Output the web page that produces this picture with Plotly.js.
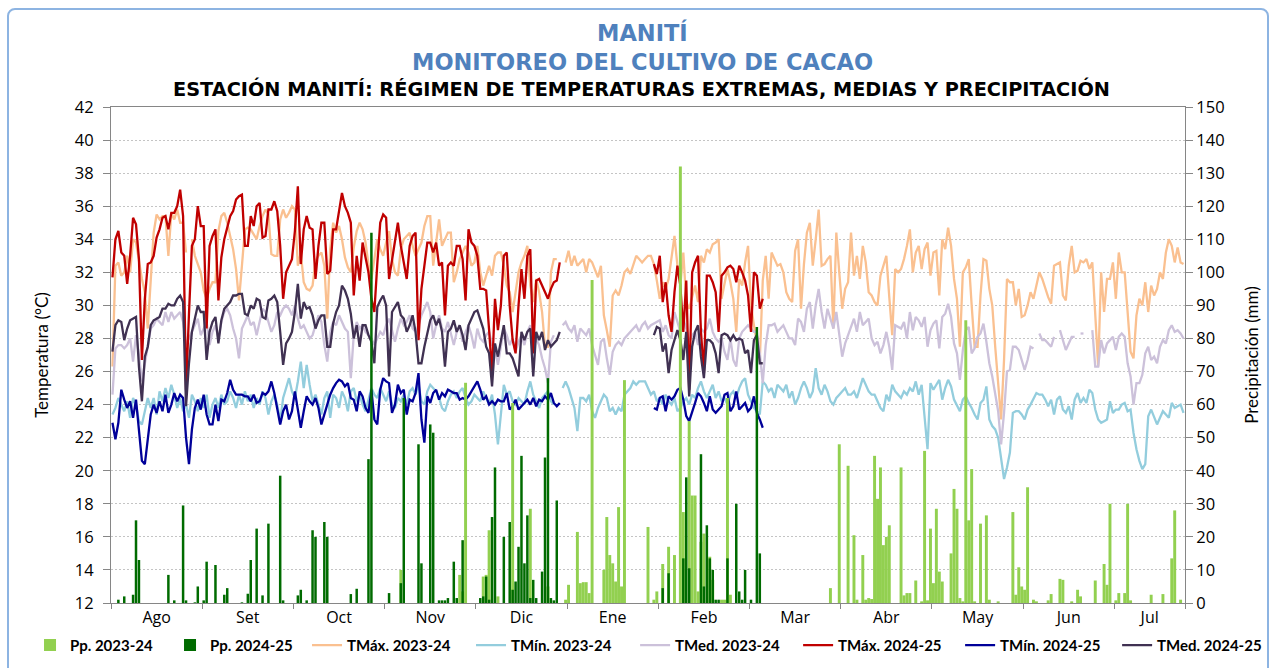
<!DOCTYPE html>
<html>
<head>
<meta charset="utf-8">
<script src="https://cdn.plot.ly/plotly-3.0.1.min.js"></script>
<style>
  html, body { margin: 0; padding: 0; background: #fff; }
  #chart { position: absolute; left: 0; top: 0; width: 1272px; height: 668px; }
  #frame { position: absolute; left: 7px; top: 8px; width: 1262px; height: 700px;
           border: 2px solid #8DB4E2; border-radius: 8px; box-sizing: border-box; pointer-events: none; }
</style>
</head>
<body>
<div id="chart"></div>
<div id="frame"></div>
<script>
// ======================
// DATA (one value per day, day 0 = 1 Ago)
// ======================

const monthLabels = ['Ago', 'Set', 'Oct', 'Nov', 'Dic', 'Ene', 'Feb', 'Mar', 'Abr', 'May', 'Jun', 'Jul'];
const nDays = 365;
const tickStep = 31; // the source chart puts a tick mark every 31 categories

// TMáx 2023-24
const tmax2324 = [
  26.3, 32.4, 32.6, 31.8, 32.0, 33.0, 32.0, 34.0, 33.8, 32.6,
  31.6, 30.8, 28.6, 31.5, 34.4, 35.5, 35.2, 35.4, 35.4, 33.0,
  35.6, 35.2, 35.8, 35.0, 35.0, 33.2, null, 34.0, 33.0, 32.5,
  32.0, 30.9, 30.4, 31.0, 31.4, 31.4, 34.5, 35.4, 35.6, 35.0,
  34.2, 33.4, 32.2, 30.3, 32.4, 34.6, 34.7, 34.6, 34.3, 34.0,
  34.8, 35.4, 35.8, 35.5, 33.1, 33.0, 33.0, 35.2, 35.8, 35.3,
  35.6, 36.0, 35.8, 32.4, 33.2, 31.4, 31.0, 30.9, 31.2, 32.7,
  33.0, 33.2, 32.4, 29.2, 33.4, 35.0, 34.4, 34.8, 34.0, 32.9,
  32.3, 32.0, 33.5, 34.5, 35.0, 34.6, 33.8, 32.5, 31.6, 32.8,
  34.0, 33.4, 33.0, 33.8, 34.5, 32.8, 32.0, 31.8, 33.4, 34.0,
  34.2, 34.4, 33.6, 33.0, 33.4, 33.8, 34.8, 35.4, 35.4, 32.4,
  33.8, 35.2, 33.6, 34.0, 34.4, 34.4, 31.4, 32.0, 32.8, 33.2,
  33.6, 33.2, 32.4, 32.6, 33.6, 32.0, 31.2, 31.8, 32.4, 31.8,
  33.0, 33.2, 33.2, 32.4, 31.2, 30.8, 29.6, 30.8, 32.0, 32.6,
  33.0, 33.6, 31.2, 30.2, 31.6, 30.8, 29.6, 27.5, 27.5, 32.0,
  32.8, 32.8, null, null, 32.6, 33.3, 32.4, 33.0, 32.4, 32.6,
  32.8, 32.0, 32.8, 32.6, 32.2, 31.7, 32.4, 29.4, 28.5, 27.5,
  30.6, 30.9, 30.6, 31.2, 32.0, 32.2, 31.9, 32.4, 33.0, 32.8,
  32.6, 32.8, 33.0, 33.0, 32.5, 31.5, 30.4, 31.4, 31.0, 31.6,
  33.0, 34.2, 32.4, 31.2, 33.2, 30.2, 29.8, 30.6, 31.2, 30.2,
  33.0, 32.6, 33.4, 33.2, 33.7, 33.8, 34.0, 30.4, 31.2, 32.2,
  31.4, 30.4, 28.4, 31.6, 31.2, 32.6, 33.6, 30.0, 28.8, 27.8,
  26.7, 31.5, 33.0, 30.4, 33.2, 32.8, 32.4, 32.5, 32.0, 30.8,
  30.4, 30.2, 33.3, 34.0, 29.8, 32.5, 34.4, 35.0, 32.4, 34.0,
  35.8, 32.4, 32.5, 32.8, 33.0, 28.6, 34.4, 32.0, 29.8, 31.0,
  31.4, 34.4, 31.8, 33.0, 31.6, 33.6, 32.6, 30.8, 30.6, 30.2,
  30.0, 31.8, 32.4, 33.0, 30.5, 28.2, 32.2, 32.0, 32.2, 32.8,
  33.6, 34.6, 32.0, 33.2, 33.6, 32.2, 33.4, 33.8, 31.8, 33.2,
  33.3, 30.6, 34.0, 33.4, 34.7, 33.6, 31.6, 30.4, 27.5, 32.0,
  32.3, 32.8, 30.0, 27.5, 27.5, 30.6, 32.8, 32.7, 31.0, 30.0,
  27.5, 25.3, 23.1, 26.7, 31.6, 31.4, 31.4, 30.0, 31.0, 29.3,
  29.4, 30.0, 30.8, 30.4, 31.2, 32.0, 31.6, 31.0, 30.5, 30.1,
  32.4, 32.5, 32.6, 30.6, 30.3, 32.4, 33.6, 32.0, 32.1, 32.7,
  32.6, 32.8, 32.2, 32.6, 29.0, 26.3, 32.0, 29.6, 31.6, 31.6,
  32.6, 30.4, 33.2, 32.0, 32.0, 29.4, 27.2, 26.8, 29.4, 30.4,
  30.0, 31.4, 29.6, 31.2, 30.6, 31.0, 32.0, 31.6, 33.2, 34.0,
  33.6, 32.6, 33.5, 32.6, 32.5
];

// TMín 2023-24
const tmin2324 = [
  23.4, 23.8, 24.4, 24.0, 23.6, 24.2, 23.2, 24.4, 24.0, 23.0,
  22.8, 23.6, 24.4, 23.8, 24.4, 23.4, 24.8, 24.2, 25.0, 24.4,
  25.2, 24.6, 23.8, 24.4, 23.6, 24.0, 23.2, 24.6, 24.2, 23.6,
  24.4, 23.8, 24.6, 23.2, 24.0, 24.4, 23.8, 24.6, 24.0, 24.2,
  24.8, 24.4, 23.8, 24.6, 24.0, 24.8, 24.2, 24.6, 23.8, 24.4,
  24.0, 24.8, 24.4, 23.4, 24.2, 24.6, 24.0, 23.0, 24.4, 25.0,
  25.6, 24.8, 24.4, 25.4, 26.6, 25.0, 26.4, 25.2, 24.2, 24.6,
  24.0, 23.4, 24.4, 24.8, 23.2, 24.6, 24.4, 23.8, 24.8, 24.4,
  23.6, 24.8, 25.0, 24.2, 24.6, 24.0, 23.6, 24.4, 25.0, 24.6,
  24.4, 25.0, 24.6, 24.2, 24.8, 24.0, 23.8, 24.4, 24.2, 24.6,
  24.0, 24.8, 25.0, 24.6, 25.2, 24.2, 24.0, 24.8, 25.2, 25.0,
  24.8, 24.4, 23.8, 23.6, 24.2, 24.6, 24.8, 24.4, 24.8, 25.0,
  24.4, 24.0, 24.2, 24.6, 24.4, 24.2, 24.8, 24.4, 24.0, 24.6,
  23.4, 21.6, 23.6, 25.2, 24.6, 24.8, 24.2, 24.0, 24.4, 24.2,
  24.0, 24.8, 25.4, 24.6, 24.2, 23.8, 24.4, 24.6, 24.8, 24.2,
  24.0, null, null, 25.0, 25.4, 25.0, 24.4, 23.8, 22.4, 24.4,
  24.4, 24.2, 24.6, 23.6, 23.2, 23.8, 24.2, 24.6, 24.4, 23.6,
  23.8, 23.4, 23.8, 23.6, 24.6, 24.8, 25.0, 25.4, 25.2, 25.4,
  25.4, 25.4, 25.0, 24.6, 24.8, 24.2, 24.4, 24.0, 24.6, 24.2,
  24.0, 24.4, 23.6, 23.8, 24.2, 24.4, 24.0, 24.6, 24.4, 25.0,
  25.4, 24.8, 24.4, 24.8, 25.2, 24.4, 24.8, 24.2, 24.4, 24.0,
  24.6, 24.8, 24.4, 25.0, 25.4, 25.6, 24.6, 24.2, 23.8, 23.6,
  23.4, 25.4, 25.2, 24.8, 25.0, 24.4, 25.2, 25.0, 24.8, 25.2,
  24.4, 24.8, 24.0, 24.4, 25.0, 25.4, 25.0, 24.4, 24.8, 26.2,
  25.0, 24.6, 25.2, 24.8, 24.2, 24.0, 24.4, 24.6, 24.8, 25.0,
  24.6, 24.6, 24.8, 24.4, 25.0, 25.6, 25.2, 24.8, 24.6, 24.6,
  24.2, 23.8, 23.6, 24.6, 24.2, 25.2, 24.8, 24.6, 24.4, 24.8,
  24.6, 25.0, 24.8, 25.4, 24.6, 25.2, 23.4, 21.3, 25.3, 24.9,
  25.2, 25.5, 24.3, 25.0, 25.5, 25.1, 24.3, 23.9, 23.6, 24.3,
  24.5, 24.1, 23.8, 23.4, 23.1, 24.1, 24.3, 25.1, 23.1, 22.7,
  22.5, 22.0, 20.6, 19.5, 20.2, 21.1, 23.5, 23.6, 23.6, 23.4,
  23.1, 23.7, 24.0, 24.4, 24.7, 24.6, 24.6, 24.3, 23.9, 24.3,
  23.4, 24.3, 24.5, 23.7, 23.5, 23.9, 23.1, 24.3, 24.7, 24.1,
  24.4, 24.1, 24.9, 24.7, 23.7, 23.1, 22.9, 23.0, 23.1, 24.2,
  23.5, 23.7, 23.7, 24.0, 24.1, 23.6, 23.7, 22.3, 21.3, 20.6,
  20.1, 20.4, 23.3, 23.7, 23.2, 22.8, 23.2, 23.6, 23.4, 23.2,
  24.1, 23.8, 23.9, 24.0, 23.5
];

// TMed 2023-24
const tmed2324 = [
  24.6, 27.4, 27.6, 27.6, 27.4, 27.6, 28.0, 26.6, 28.2, 27.0,
  25.4, 26.4, 27.4, 28.6, 28.8, 29.2, 29.0, 28.8, 29.6, 29.0,
  29.6, 29.2, 29.4, 29.6, 29.0, 27.6, 28.0, 28.4, 28.8, 29.2,
  28.2, 28.6, 29.0, 27.6, 28.4, 28.8, 28.0, 29.0, 29.6, 29.8,
  29.4, 28.6, 28.0, 26.8, 28.6, 29.0, 29.4, 28.8, 29.0, 28.2,
  29.0, 29.8, 29.6, 29.0, 28.4, 28.8, 29.6, 29.4, 29.8, 30.0,
  29.8, 29.4, 30.0, 29.2, 28.6, 28.8, 28.4, 28.0, 28.2, 28.8,
  29.4, 29.0, 27.6, 26.6, 28.4, 29.0, 28.8, 29.4, 29.0, 28.6,
  28.4, 25.6, 28.2, 29.0, 28.6, 28.8, 28.4, 28.2, 28.0, 27.6,
  28.0, 28.4, 28.2, 28.8, 29.2, 28.4, 27.8, 28.6, 29.2, 28.8,
  29.0, 29.4, 28.6, 28.4, 28.8, 29.4, 29.8, 30.2, 29.6, 28.0,
  28.8, 29.4, 28.6, 28.4, 29.0, 28.2, 27.6, 28.4, 28.8, 27.8,
  28.4, 28.8, 28.2, 27.4, 28.6, 28.0, 27.8, 28.2, 28.4, 27.6,
  27.4, 26.4, 27.6, 28.6, 28.2, 27.6, 28.0, 27.2, 27.8, 28.2,
  27.6, 28.4, 28.8, 27.4, 28.0, 27.6, 26.8, 26.2, 25.3, 27.8,
  28.2, null, null, 28.8, 29.0, 28.6, 28.4, 28.8, 27.8, 28.6,
  28.4, 28.2, 28.6, 27.6, 27.0, 26.4, 27.8, 28.0, 26.8, 25.8,
  27.2, 27.6, 27.8, 27.6, 28.0, 28.2, 28.4, 28.6, 28.8, 28.4,
  28.8, 29.0, 28.6, 28.8, 28.9, 29.0, 29.1, 28.4, 28.8, 28.2,
  28.0, 29.6, 29.0, 28.4, 29.2, 28.6, 27.8, 28.2, 28.4, 27.6,
  28.6, 28.4, 28.6, 29.2, 28.4, 28.0, 27.8, 28.0, 27.2, 26.7,
  28.0, 26.7, 26.3, 28.0, 28.4, 28.6, 28.8, 28.6, 28.4, 28.4,
  27.1, 25.3, 27.6, 28.8, 28.8, 28.9, 28.4, 28.6, 28.8, 28.4,
  28.0, 28.0, 27.6, 29.2, 29.0, 28.4, 29.8, 30.2, 28.6, 30.0,
  31.0, 29.6, 28.6, 29.8, 29.2, 28.6, 29.6, 28.4, 26.9, 27.7,
  28.2, 28.8, 29.2, 28.4, 29.6, 28.8, 29.0, 29.2, 28.0, 27.6,
  27.8, 27.1, 27.6, 28.4, 27.5, 26.1, 28.8, 28.7, 28.6, 29.0,
  28.0, 29.6, 28.5, 29.3, 29.1, 28.7, 29.3, 27.5, 28.5, 28.9,
  29.1, 27.4, 29.3, 29.5, 30.1, 29.3, 27.7, 27.1, 25.5, 27.3,
  28.5, 28.7, 27.1, 27.4, 28.1, 28.3, 28.9, 27.8, 26.5, 25.7,
  24.5, 23.6, 21.6, 23.5, 26.0, 26.1, 27.5, 27.5, 27.3, 26.7,
  26.1, 26.7, 27.5, 27.4, null, 28.3, 27.9, 27.9, 27.7, 27.5,
  28.1, null, 28.5, 27.9, 27.3, 27.7, 28.1, 28.1, null, 28.3,
  28.3, null, null, 28.5, 26.3, 26.3, 27.9, 27.1, 27.7, 27.9,
  28.1, 27.3, 28.1, 28.3, 28.1, 26.5, 25.7, 24.0, 25.3, 25.3,
  25.8, 27.1, 27.5, 26.7, 26.9, 26.5, 27.5, 27.9, 27.7, 28.5,
  28.8, 28.4, 28.5, 28.3, 28.0
];

// 2024-25 has two recorded stretches: from day 0 and from day 184
const seg2425Start = [0, 184];

const tmax2425a = [
  31.7, 34.0, 34.5, 33.2, 33.0, 31.3, 33.0, 35.3, 34.9, 32.8,
  26.7, 30.4, 32.5, 32.6, 33.0, 34.1, 34.6, 35.3, 35.4, 34.6,
  35.6, 35.6, 36.0, 37.0, 35.4, 24.9, 29.5, 33.6, 34.0, 36.0,
  34.8, 34.8, 28.6, 33.6, 34.2, 34.6, 30.3, 32.9, 34.0, 34.8,
  35.4, 35.7, 36.4, 36.6, 36.7, 33.6, 33.6, 35.4, 34.8, 36.0,
  36.2, 34.1, 34.2, 35.8, 35.8, 36.3, 35.7, 33.6, 30.4, 32.0,
  32.4, 32.8, 34.5, 37.2, 32.5, 34.6, 35.4, 34.7, 34.6, 31.6,
  33.6, 35.0, 35.0, 31.9, 32.1, 34.6, 34.6, 35.6, 36.8, 36.0,
  35.6, 35.0, 30.6, 33.0, 31.5, 33.8, 33.0, 32.0, 30.4, 29.6,
  32.5, 35.0, 35.5, 35.3, 31.6, 32.8, 34.0, 35.0, 33.6, 32.5,
  31.6, 33.6, 34.2, 34.4, 27.9, 31.0, 32.5, 33.8, 33.8, 33.2,
  33.8, 32.4, 32.6, 29.4, 32.4, 32.6, 32.4, 33.6, 33.6, 32.8,
  30.3, 34.6, 33.8, 33.6, 33.0, 31.0, 31.0, 30.9, 28.5, 25.9,
  30.4, 28.5, 30.0, 33.0, 33.2, 30.0, 27.9, 27.1, 30.0, 32.2,
  30.4, 33.0, 33.4, 27.1, 31.5, 31.6, 31.2, 30.8, 30.4, 31.0,
  31.4, 31.5, 32.6
];
const tmax2425b = [
  32.5, 31.9, 33.0, 30.2, 31.4, 29.4, 28.4, 30.8, 32.4, 31.2,
  28.4, 31.5, 24.9, 32.0, 32.6, 33.0, 28.4, 25.9, 31.8, 31.8,
  31.4, 30.8, 28.4, 31.8, 32.0, 32.3, 32.4, 32.2, 31.4, 32.4,
  32.0, 31.5, 30.6, 28.4, 32.0, 31.8, 29.8, 30.4
];

const tmin2425a = [
  22.9, 21.9, 22.9, 24.9, 24.3, 23.8, 24.2, 23.2, 24.3, 22.3,
  20.6, 20.4, 21.8, 23.4, 24.0, 23.5, 24.2, 23.6, 24.6, 23.5,
  24.0, 24.7, 24.2, 24.6, 24.4, 22.0, 20.4, 22.5, 23.8, 24.3,
  23.7, 24.6, 23.4, 22.8, 22.8, 24.0, 23.0, 24.3, 24.2, 24.7,
  25.5, 24.9, 24.6, 24.6, 24.6, 24.5, 24.5, 24.2, 24.6, 24.1,
  24.2, 24.7, 24.6, 24.8, 25.4, 24.7, 23.8, 22.8, 23.6, 24.0,
  23.1, 23.6, 24.8, 23.8, 22.6, 23.6, 24.5, 24.2, 24.0, 24.4,
  23.8, 22.8, 23.4, 24.0, 24.6, 25.0, 25.3, 25.5, 25.4, 25.1,
  25.3, 24.4, 24.3, 23.6, 24.8, 24.5, 23.8, 23.5, 24.9, 23.1,
  22.8, 24.9, 25.6, 25.4, 25.3, 23.5, 24.0, 25.2, 24.7, 24.9,
  23.4, 24.3, 24.2, 24.7, 25.9, 23.1, 21.7, 24.5, 24.1, 24.7,
  24.9, 24.3, 24.7, 24.5, 24.9, 24.8, 24.7, 24.7, 24.3, 24.4,
  24.3, 24.5, 24.8, 25.1, 25.4, 24.9, 24.3, 24.5, 24.0, 24.2,
  24.0, 24.3, 24.2, 24.2, 24.7, 23.7, 23.9, 24.3, 23.7, 23.9,
  24.1, 24.3, 24.0, 24.4, 23.9, 24.3, 24.2, 24.5, 24.3, 24.7,
  24.1, 23.9, 24.1
];
const tmin2425b = [
  23.8, 23.7, 24.4, 24.5, 23.6, 24.5, 24.3, 24.5, 24.9, 25.0,
  24.3, 23.3, 23.0, 23.5, 24.1, 24.7, 24.5, 24.1, 23.6, 24.5,
  23.7, 23.5, 23.7, 23.9, 24.6, 24.7, 23.6, 23.9, 24.8, 23.7,
  23.9, 24.1, 23.6, 23.8, 24.5, 23.5, 23.1, 22.6
];

const tmed2425a = [
  27.2, 28.8, 29.1, 29.0, 27.9, 28.6, 29.1, 29.2, 29.3, 26.3,
  24.2, 26.9, 27.5, 28.8, 29.1, 29.2, 29.3, 29.8, 29.8, 30.1,
  30.0, 30.0, 30.4, 30.6, 30.2, 23.9, 26.5, 28.4, 29.3, 30.0,
  29.6, 29.6, 26.7, 28.4, 29.0, 29.3, 27.7, 29.1, 29.8, 30.0,
  30.2, 30.6, 30.6, 30.7, 30.7, 29.5, 29.4, 30.0, 29.8, 30.4,
  30.3, 29.3, 29.2, 30.3, 30.4, 30.6, 30.2, 28.4, 26.4, 27.7,
  28.0, 28.4, 29.6, 31.3, 29.2, 30.2, 29.8, 29.9, 29.4, 28.6,
  29.1, 29.4, 29.4, 27.5, 27.5, 28.9, 29.6, 30.0, 31.2, 30.9,
  30.4, 29.5, 28.0, 28.8, 27.5, 28.8, 28.8, 28.2, 27.8, 26.5,
  29.9, 30.3, 30.6, 30.0, 25.7, 29.6, 29.9, 30.2, 29.4, 29.2,
  28.4, 28.8, 29.4, 28.4, 26.5, 26.5, 27.5, 28.4, 29.1, 29.4,
  28.8, 29.2, 28.4, 26.3, 28.4, 28.6, 29.1, 28.4, 28.8, 28.2,
  27.3, 28.8, 29.2, 29.6, 29.7, 29.2, 28.6, 27.5, 27.1, 25.1,
  27.7, 26.9, 27.9, 28.8, 27.1, 27.1, 26.8, 26.3, 25.7, 28.4,
  27.9, 28.4, 28.6, 25.7, 28.4, 27.9, 28.4, 27.3, 27.9, 27.5,
  27.7, 27.9, 28.4
];
const tmed2425b = [
  28.2, 28.7, 28.6, 27.2, 27.7, 25.9, 27.3, 27.9, 28.5, 27.9,
  26.7, 28.4, 24.5, 27.5, 28.4, 28.8, 26.9, 25.6, 27.9, 27.9,
  27.7, 27.1, 25.9, 28.2, 28.3, 28.2, 27.9, 28.2, 27.9, 28.0,
  27.9, 27.1, 27.3, 25.9, 27.9, 28.2, 26.5, 26.5
];

// Precipitation (mm): day index and amount, only rainy days
const pp2324Day = [
  98, 118, 119, 120, 126, 127, 128, 131, 136, 142, 148, 154, 155, 158, 159, 160, 161, 162, 163,
  167, 168, 169, 170, 171, 172, 173, 174, 182, 184, 185, 187, 189, 191, 193, 194, 196, 197, 198,
  199, 200, 201, 203, 204, 207, 208, 209, 210, 244, 247, 250, 252, 253, 255, 256, 257, 258, 259,
  260, 261, 262, 263, 264, 268, 269, 270, 271, 273, 275, 276, 277, 278, 279, 280, 281, 282, 285,
  286, 287, 288, 289, 290, 291, 292, 293, 295, 297, 298, 301, 306, 307, 308, 309, 310, 311, 313,
  314, 318, 319, 322, 323, 326, 328, 329, 334, 337, 338, 339, 341, 342, 344, 345, 346, 353, 357,
  360, 361, 363
];
const pp2324 = [
  10, 8.5, 3.5, 66.6, 8, 8.5, 22, 2, 60.5, 28.5, 5, 1, 5.5, 21.5, 6, 6.3, 6.3, 3, 97.7,
  10, 26, 14.5, 12, 6.5, 29, 5, 67.4, 23, 1, 3.5, 11.8, 17, 14.5, 132, 27.5, 55, 32.5, 32.5,
  3.5, 18.5, 21, 14, 7, 1, 1, 62, 2.5, 4.5, 48, 41.5, 20.5, 1, 14.5, 1, 1.5, 1.2, 44.5,
  31.5, 41, 17.5, 20, 23.5, 41, 2.3, 3, 3, 6.8, 0.5, 46, 0.8, 22.5, 6, 28.5, 9.5, 6.5, 15,
  34.5, 28.5, 1.5, 0.5, 85.5, 25, 40.5, 0.5, 24, 26.5, 1, 0.5, 27.5, 2.5, 10.8, 5, 4, 35, 1,
  0.5, 0.8, 2.7, 7.3, 7, 0.5, 4, 2, 6.8, 11.8, 5.5, 30, 0.8, 3, 3, 30, 0.8, 2.5, 2.7,
  13.5, 28, 1
];

const pp2425Day = [
  2, 4, 7, 8, 9, 19, 21, 24, 25, 28, 29, 31, 32, 35, 38, 39, 44, 46, 47, 49, 51, 53, 57, 58,
  63, 64, 66, 68, 69, 72, 73, 81, 83, 87, 88, 94, 98, 99, 104, 105, 108, 109, 111, 112, 113,
  114, 116, 117, 119, 125, 126, 127, 128, 129, 130, 133, 135, 136, 137, 138, 139, 140, 141, 142,
  143, 144, 146, 147, 148, 149, 150, 151, 187, 189, 194, 195, 196, 200, 201, 202, 203, 204, 205,
  206, 209, 212, 213, 214, 215, 217, 219, 220
];
const pp2425 = [
  1, 2, 2.5, 25, 13, 8.5, 0.8, 29.5, 0.8, 0.2, 5, 0.8, 12.5, 11.5, 2.5, 4.5, 0.2, 2.8, 13, 22.5, 2.3, 24, 38.5, 0.8,
  2.3, 4, 0.8, 22, 20, 24.5, 20, 2.7, 4.3, 43.5, 112, 3, 6, 62, 48, 12, 54, 51.5, 0.8, 0.8, 0.8,
  1.5, 12.5, 1.5, 19, 1.5, 2, 8, 1, 26, 41, 20, 24.5, 4, 6.5, 17, 44.5, 12, 26.5, 1.5,
  7, 1.5, 9.5, 44, 68, 1.5, 0.8, 31, 4.5, 9, 13.5, 38, 10.5, 45, 5, 23.5, 13.5, 10, 1,
  1, 13.5, 30, 3.5, 1, 10, 1, 83.5, 15
];

// ======================
// HELPERS
// ======================

function fullYear(parts) {
    const out = new Array(nDays).fill(null);
    parts.forEach(([start, values]) => values.forEach((v, i) => { out[start + i] = v; }));
    return out;
}

const dayIndex = Array.from({ length: nDays }, (_, i) => i);

// tick marks every 31 categories, month label centred between them
const monthEdges = [];
for (let d = 0; d < nDays; d += tickStep) monthEdges.push(d - 0.5);
monthEdges.push(nDays - 0.5);
const monthCenters = monthLabels.map((_, i) => (monthEdges[i] + monthEdges[i + 1]) / 2);

const FONT = 'Lato, "Open Sans", sans-serif';
const TITLE_FONT = '"DejaVu Sans", sans-serif';

function lineTrace(name, y, color, legend, legendwidth) {
    return {
        type: 'scatter', mode: 'lines', name: name,
        x: dayIndex, y: y,
        line: { color: color, width: 2.3 },
        connectgaps: false,
        legend: legend, legendwidth: legendwidth,
        hoverinfo: 'skip'
    };
}

// ======================
// TRACES
// ======================

const traces = [
    {
        type: 'bar', name: 'Pp. 2023-24', x: pp2324Day, y: pp2324, yaxis: 'y2',
        marker: { color: '#92D050', line: { width: 0 } }, width: 1.0,
        legend: 'legend', legendwidth: 95, hoverinfo: 'skip'
    },
    {
        type: 'bar', name: 'Pp. 2024-25', x: pp2425Day, y: pp2425, yaxis: 'y2',
        marker: { color: '#006B00', line: { width: 0 } }, width: 0.85,
        legend: 'legend', legendwidth: 92, hoverinfo: 'skip'
    },
    lineTrace('TMáx. 2023-24', tmax2324, '#FAC090', 'legend', 119),
    lineTrace('TMín. 2023-24', tmin2324, '#93CDDD', 'legend', 116),
    lineTrace('TMed. 2023-24', tmed2324, '#CCC1DA', 'legend2', 118),
    lineTrace('TMáx. 2024-25', fullYear([[seg2425Start[0], tmax2425a], [seg2425Start[1], tmax2425b]]), '#C00000', 'legend2', 117),
    lineTrace('TMín. 2024-25', fullYear([[seg2425Start[0], tmin2425a], [seg2425Start[1], tmin2425b]]), '#000099', 'legend2', 112),
    lineTrace('TMed. 2024-25', fullYear([[seg2425Start[0], tmed2425a], [seg2425Start[1], tmed2425b]]), '#403152', 'legend2', 105)
];

// ======================
// LAYOUT
// ======================

const axisGrey = '#868686';
const legendFont = { family: FONT, size: 15, color: '#000', weight: 'bold' };

const layout = {
    width: 1272,
    height: 668,
    paper_bgcolor: 'rgba(0,0,0,0)',
    plot_bgcolor: '#fff',
    margin: { l: 111, r: 87, t: 107, b: 65, autoexpand: false },
    font: { family: FONT, size: 16, color: '#000' },
    barmode: 'overlay',
    showlegend: true,
    legend: {
        orientation: 'h', x: -0.0754, xanchor: 'left', y: -0.052, yanchor: 'top',
        font: legendFont, bgcolor: 'rgba(0,0,0,0)', itemwidth: 30
    },
    legend2: {
        orientation: 'h', x: 0.488, xanchor: 'left', y: -0.052, yanchor: 'top',
        font: legendFont, bgcolor: 'rgba(0,0,0,0)', itemwidth: 30
    },
    xaxis: {
        range: [-0.5, nDays - 0.5],
        tickmode: 'array', tickvals: monthCenters, ticktext: monthLabels,
        ticks: '', showgrid: false, zeroline: false,
        showline: true, linecolor: axisGrey, linewidth: 1, mirror: true,
        tickfont: { family: '"Open Sans", sans-serif', size: 16, color: '#000' },
        minor: { tickmode: 'array', tickvals: monthEdges, ticks: 'outside', ticklen: 5, tickcolor: axisGrey, showgrid: false }
    },
    yaxis: {
        range: [12, 42], tick0: 12, dtick: 2,
        ticks: 'outside', ticklen: 7, tickcolor: axisGrey,
        showline: true, linecolor: axisGrey, linewidth: 1,
        showgrid: true, gridcolor: '#C4C4C4', griddash: '2px,2px', gridwidth: 1,
        zeroline: false, ticklabelstandoff: 6,
        tickfont: { family: '"Open Sans", sans-serif', size: 16.5, color: '#000' },
        title: { text: 'Temperatura (°C)', font: { family: FONT, size: 17, color: '#000' }, standoff: 21 }
    },
    yaxis2: {
        range: [0, 150], tick0: 0, dtick: 10,
        overlaying: 'y', side: 'right',
        ticks: 'outside', ticklen: 7, tickcolor: axisGrey,
        showline: true, linecolor: axisGrey, linewidth: 1,
        showgrid: false, zeroline: false,
        tickfont: { family: '"Open Sans", sans-serif', size: 16.5, color: '#000' },
        title: { text: 'Precipitación (mm)', font: { family: FONT, size: 17, color: '#000' }, standoff: 22 }
    },
    annotations: [
        { text: 'MANITÍ', xref: 'paper', yref: 'paper', x: 0.4953, y: 1.1512, showarrow: false,
          xanchor: 'center', yanchor: 'middle',
          font: { family: TITLE_FONT, size: 22.5, color: '#4F81BD', weight: 'bold' } },
        { text: 'MONITOREO DEL CULTIVO DE CACAO', xref: 'paper', yref: 'paper', x: 0.4953, y: 1.0907, showarrow: false,
          xanchor: 'center', yanchor: 'middle',
          font: { family: TITLE_FONT, size: 22.5, color: '#4F81BD', weight: 'bold' } },
        { text: 'ESTACIÓN MANITÍ: RÉGIMEN DE TEMPERATURAS EXTREMAS, MEDIAS Y PRECIPITACIÓN', xref: 'paper', yref: 'paper',
          x: 0.4935, y: 1.0363, showarrow: false, xanchor: 'center', yanchor: 'middle',
          font: { family: TITLE_FONT, size: 19.3, color: '#000', weight: 'bold' } }
    ]
};

Plotly.newPlot('chart', traces, layout, { displayModeBar: false, staticPlot: true });
</script>
</body>
</html>
